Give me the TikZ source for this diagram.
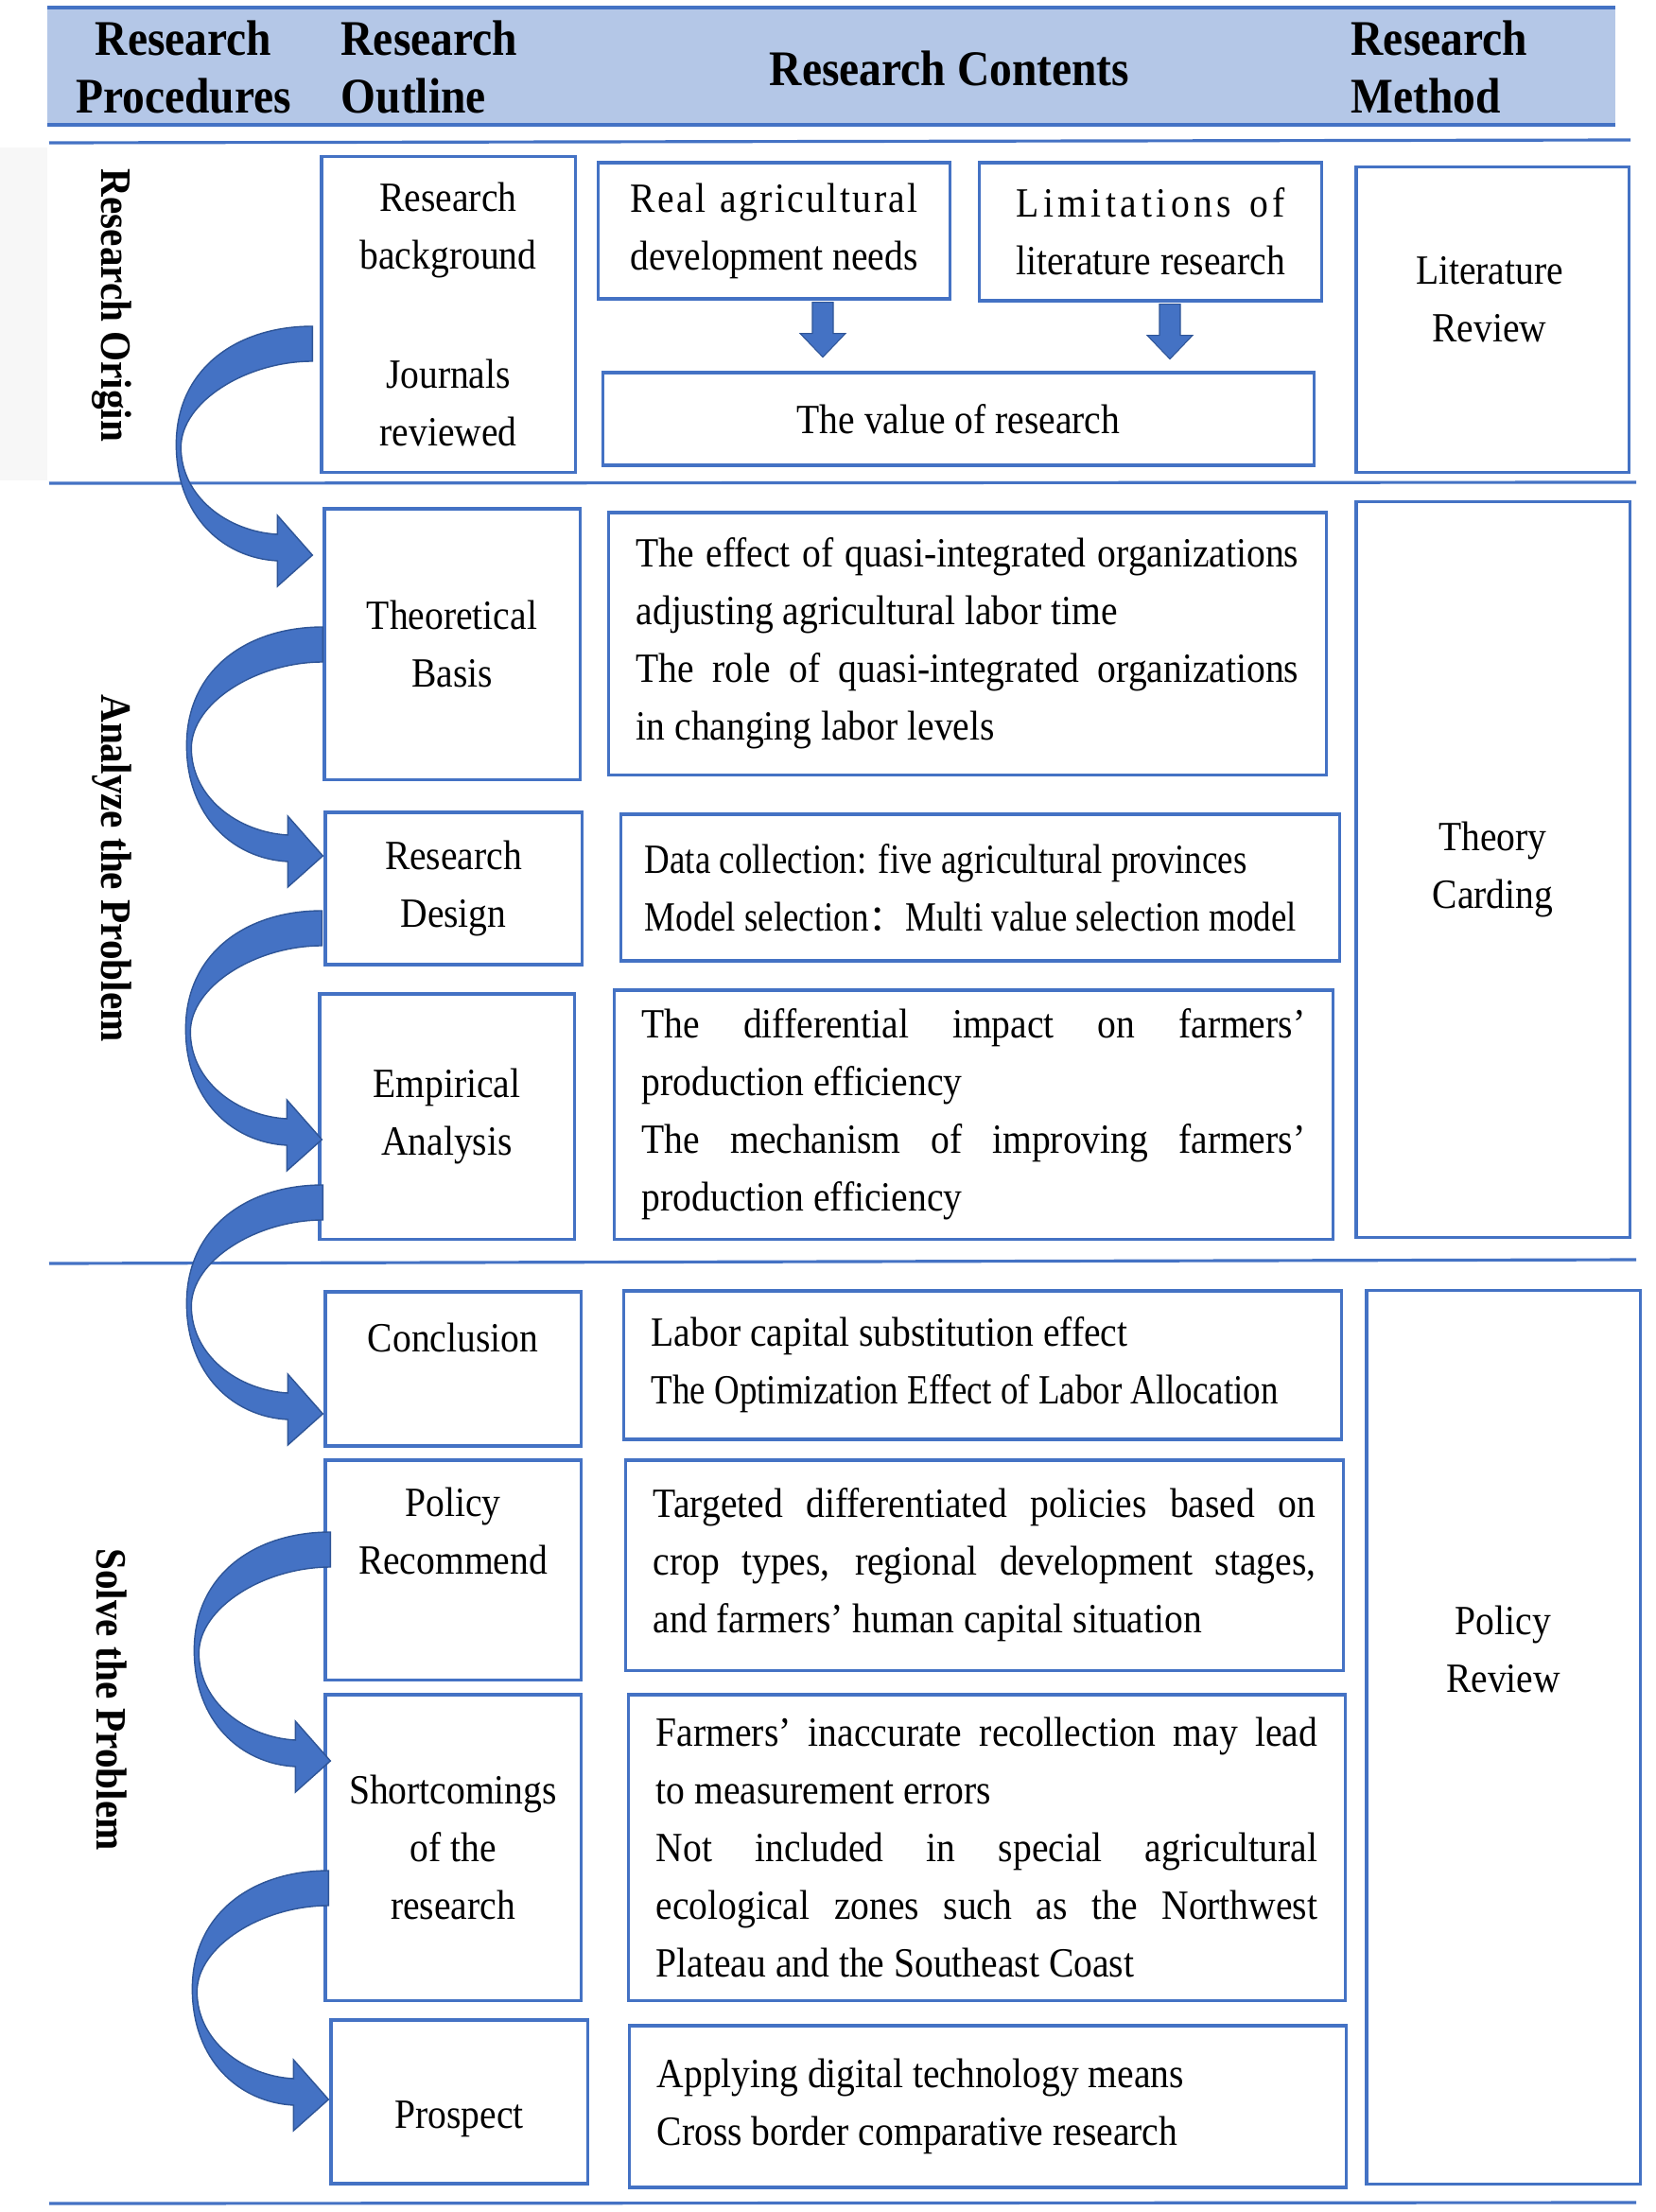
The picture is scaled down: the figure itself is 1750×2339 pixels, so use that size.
\documentclass[tikz,border=0pt]{standalone}
\usepackage{fontspec}
\setmainfont{Liberation Serif}[FakeStretch=0.9]
\newfontfamily\narrowfont{Liberation Serif}[FakeStretch=0.84]
\newfontfamily\cjk{Noto Sans CJK SC}
\usetikzlibrary{calc}
\definecolor{bl}{HTML}{4472C4}
\definecolor{hdr}{HTML}{B4C7E7}
\definecolor{dkb}{HTML}{2F5597}
\newcommand\mainfnt{\fontsize{12.5}{17.35}\selectfont\hyphenpenalty=10000 }
\newcommand\hdrfnt{\fontsize{15}{17.3}\selectfont\bfseries}
\newcommand\vlabfnt{\fontsize{13}{16}\selectfont\bfseries}
\newcommand\jl[1]{\makebox[\linewidth][s]{\spaceskip=0pt\xspaceskip=0pt\relax #1}}
\begin{document}
\begin{tikzpicture}[x=0.01cm,y=-0.01cm,
  box/.style={draw=bl, line width=0.9pt, rectangle, inner sep=0pt, align=center, font=\mainfnt},
  cbox/.style={box, align=left, inner xsep=0.29cm,
    execute at begin node={\spaceskip=0pt\xspaceskip=0pt\relax}},
  txt/.style={inner sep=0pt, align=center, font=\mainfnt},
  hdrtxt/.style={inner sep=0pt, font=\hdrfnt},
  vlab/.style={inner sep=0pt, rotate=-90, font=\vlabfnt},
  sepline/.style={draw=bl, line width=0.9pt},
  blockarr/.style={fill=bl, draw=dkb, line width=0.3pt},
  carrow/.pic={\filldraw[fill=bl, draw=dkb, line width=0.4pt]
    (0,0) .. controls (-80,0) and (-144,45) .. (-144,125)
    .. controls (-144,200) and (-95,245) .. (-37,248)
    -- (-37,275) -- (0,242) -- (-37,200) -- (-37,220)
    .. controls (-90,217) and (-139,180) .. (-139,128)
    .. controls (-139,80) and (-70,37) .. (0,37) -- cycle;}
]
\useasboundingbox (0,0) rectangle (1750,2339);
\fill[white] (0,0) rectangle (1750,2339);

% header band
\fill[hdr] (50,8) rectangle (1708,132);
\draw[bl, line width=1.3pt] (50,8) -- (1708,8);
\draw[bl, line width=1.3pt] (50,132) -- (1708,132);
\node[hdrtxt, align=center] (h1) at (194,71) {Research\\Procedures};
\node[hdrtxt, align=left, anchor=west] (h2) at (360,71) {Research\\Outline};
\node[hdrtxt] (h3) at (1004,72) {Research Contents};
\node[hdrtxt, align=left, anchor=west] (h4) at (1428,71) {Research\\Method};

% faint left strip
\fill[black!3] (0,156) rectangle (50,508);

% section lines
\draw[sepline] (52,151) -- (1724,148);
\draw[sepline] (52,511) -- (1730,510);
\draw[sepline] (52,1336) -- (1730,1332);
\draw[sepline] (52,2330) -- (1730,2329);

% vertical labels
\node[vlab] (v1) at (118,323) {Research Origin};
\node[vlab] (v2) at (118,918) {Analyze the Problem};
\node[vlab] (v3) at (118,1797) {Solve the Problem};

% outline column
\node[box, minimum width=2.68cm, minimum height=3.33cm] (RB) at (474,332.5) {};
\node[txt] (rb1) at ($(RB.center)+(0,-89)$) {Research\\background};
\node[txt] (rb2) at ($(RB.center)+(0,93.5)$) {Journals\\reviewed};
\node[box, minimum width=2.70cm, minimum height=2.86cm] (TB) at (478,681) {Theoretical\\Basis};
\node[box, minimum width=2.71cm, minimum height=1.61cm] (RD) at (479.5,939.5) {Research\\Design};
\node[box, minimum width=2.69cm, minimum height=2.59cm] (EA) at (472.5,1180.5) {Empirical\\Analysis};
\node[box, minimum width=2.70cm, minimum height=1.63cm] (CO) at (479,1447.5) {};
\node[txt] (coT) at ($(CO.center)+(0,-33.5)$) {Conclusion};
\node[box, minimum width=2.70cm, minimum height=2.32cm] (PR) at (479,1660) {};
\node[txt] (prT) at ($(PR.center)+(0,-41.5)$) {Policy\\Recommend};
\node[box, minimum width=2.70cm, minimum height=3.23cm] (SH) at (479,1953.5) {Shortcomings\\of the\\research};
\node[box, minimum width=2.71cm, minimum height=1.73cm] (PS) at (485.5,2222.5) {};
\node[txt] (psT) at ($(PS.center)+(0,18.5)$) {Prospect};

% contents column
\node[box, minimum width=3.71cm, minimum height=1.44cm] (RA) at (818.5,244)
  {\setbox0\hbox{development needs}\hbox to \wd0{R\hfill e\hfill a\hfill l\hfill\ \hfill a\hfill g\hfill r\hfill i\hfill c\hfill u\hfill l\hfill t\hfill u\hfill r\hfill a\hfill l}\\development needs};
\node[box, minimum width=3.61cm, minimum height=1.46cm] (LI) at (1216.5,245)
  {\setbox0\hbox{literature research}\hbox to \wd0{L\hfill i\hfill m\hfill i\hfill t\hfill a\hfill t\hfill i\hfill o\hfill n\hfill s\hfill\ \hfill o\hfill f}\\literature research};
\node[box, minimum width=7.51cm, minimum height=0.98cm] (VA) at (1013.5,443) {The value of research};

\node[cbox, minimum width=7.58cm, minimum height=2.77cm, text width=7.00cm] (TC) at (1023,680.5)
  {\jl{The effect of quasi-integrated organizations}\\adjusting agricultural labor time\\\jl{The role of quasi-integrated organizations}\\in changing labor levels};
\node[cbox, inner xsep=0.25cm, minimum width=7.59cm, minimum height=1.55cm, text width=7.09cm] (DC) at (1036.5,938.5)
  {\narrowfont Data collection: five agricultural provinces\\\narrowfont Model selection{\cjk\fontsize{11}{11}\selectfont ：}Multi value selection model};
\node[cbox, minimum width=7.59cm, minimum height=2.63cm, text width=7.01cm] (DI) at (1029.5,1178.5)
  {\jl{The differential impact on farmers'}\\production efficiency\\\jl{The mechanism of improving farmers'}\\production efficiency};
\node[cbox, minimum width=7.58cm, minimum height=1.57cm, text width=7.00cm] (LC) at (1039,1443.5)
  {Labor capital substitution effect\\\narrowfont The Optimization Effect of Labor Allocation};
\node[cbox, minimum width=7.58cm, minimum height=2.22cm, text width=7.00cm] (TG) at (1041,1655)
  {\jl{Targeted differentiated policies based on}\\\jl{crop types, regional development stages,}\\and farmers' human capital situation};
\node[cbox, minimum width=7.57cm, minimum height=3.23cm, text width=6.99cm] (FA) at (1043.5,1953.5)
  {\jl{Farmers' inaccurate recollection may lead}\\to measurement errors\\\jl{Not included in special agricultural}\\\jl{ecological zones such as the Northwest}\\Plateau and the Southeast Coast};
\node[cbox, minimum width=7.57cm, minimum height=1.71cm, text width=6.99cm] (AP) at (1044.5,2227.5)
  {Applying digital technology means\\Cross border comparative research};

% method column
\node[box, minimum width=2.88cm, minimum height=3.22cm] (LR) at (1578,338) {};
\node[txt] (lrT) at ($(LR.center)+(-3,-21.5)$) {Literature\\Review};
\node[box, minimum width=2.89cm, minimum height=7.77cm] (TH) at (1578.5,919.5) {Theory\\Carding};
\node[box, minimum width=2.89cm, minimum height=9.44cm] (PO) at (1589.5,1837) {};
\node[txt] (poT) at ($(PO.center)+(0,-93.5)$) {Policy\\Review};

% block arrows to "The value of research"
\coordinate (a1) at ($(RA.south)+(51.5,0)$);
\coordinate (a2) at ($(LI.south)+(20.5,0)$);
\foreach \c in {a1,a2}{
  \filldraw[blockarr] ($(\c)+(-11,2)$) -- ++(22,0) -- ++(0,33) -- ++(13,0)
    -- ($(\c)+(0,60)$) -- ($(\c)+(-24,35)$) -- ++(13,0) -- cycle;
}

% curved arrows between outline boxes
\pic at ($(RB.west)+(-8,12.5)$) {carrow};
\pic at ($(TB.west)+(0,-18)$) {carrow};
\pic at ($(RD.west)+(-2,23.5)$) {carrow};
\pic at ($(EA.west)+(5,72.5)$) {carrow};
\pic at ($(PR.west)+(7,-40)$) {carrow};
\pic at ($(SH.west)+(5,24.5)$) {carrow};
\end{tikzpicture}
\end{document}
